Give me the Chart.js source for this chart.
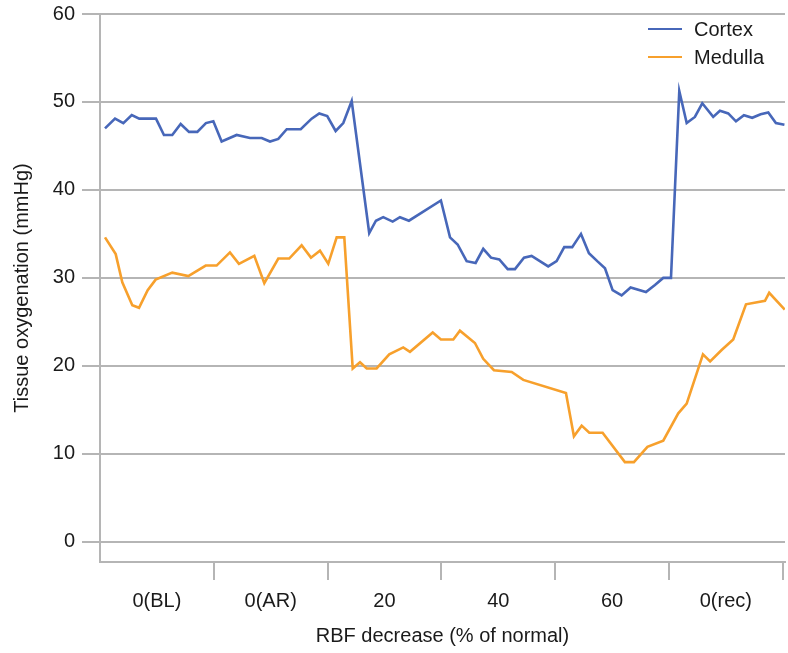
<!DOCTYPE html>
<html>
<head>
<meta charset="utf-8">
<script src="https://cdn.jsdelivr.net/npm/chart.js@4.4.1/dist/chart.umd.min.js"></script>
<style>
  html, body { margin: 0; padding: 0; background: #fff; }
  #wrap { position: relative; width: 788px; height: 653px; }
  #legend { position: absolute; left: 648px; top: 15px; font-family: "Liberation Sans", Arial, sans-serif; font-size: 20px; color: #1a1a1a; }
  #legend .item { display: flex; align-items: center; height: 28px; }
  #legend .swatch { width: 34px; height: 0; border-top: 2.5px solid; margin-right: 12px; }
</style>
</head>
<body>
<div id="wrap">
  <canvas id="c" width="788" height="653"></canvas>
  <div id="legend"></div>
</div>
<script>
// Category labels (one per x-axis group)
const categories = ["0(BL)", "0(AR)", "20", "40", "60", "0(rec)"];
// Y tick values
const yTicks = [0, 10, 20, 30, 40, 50, 60];

// Cortex series: x position (in group units), tissue oxygenation (mmHg)
const cortexX = [0.044,0.132,0.205,0.279,0.345,0.492,0.562,0.635,0.709,0.782,0.855,0.931,0.996,
  1.069,1.201,1.318,1.421,1.494,1.567,1.641,1.764,1.860,1.927,1.997,
  2.071,2.138,2.212,2.366,2.425,2.489,2.572,2.636,2.715,2.996,
  3.076,3.143,3.222,3.301,3.368,3.436,3.509,3.583,3.647,3.726,3.793,3.939,
  4.013,4.080,4.150,4.227,4.297,4.370,4.438,4.505,4.584,4.663,4.798,4.877,4.950,
  5.018,5.091,5.156,5.228,5.293,5.389,5.448,5.521,5.589,5.659,5.732,5.806,5.873,5.940,6.015];
const cortexY = [47.0,48.1,47.6,48.5,48.1,48.1,46.25,46.25,47.5,46.6,46.6,47.6,47.8,
  45.5,46.25,45.9,45.9,45.5,45.8,46.9,46.9,48.1,48.7,48.4,
  46.7,47.6,50.1,35.1,36.5,36.9,36.4,36.9,36.5,38.8,
  34.6,33.8,31.9,31.7,33.3,32.3,32.1,31.0,31.0,32.3,32.5,31.3,
  31.9,33.5,33.5,35.0,32.8,31.9,31.1,28.6,28.0,28.9,28.4,29.2,30.0,
  30.0,51.25,47.6,48.3,49.85,48.3,49.0,48.7,47.8,48.5,48.2,48.6,48.8,47.6,47.4];

// Medulla series
const medullaX = [0.044,0.138,0.196,0.284,0.343,0.419,0.489,0.635,0.776,0.929,
  1.025,1.142,1.221,1.356,1.444,1.567,1.663,1.772,1.854,1.933,
  2.006,2.080,2.147,2.221,2.285,2.344,2.431,2.542,2.665,2.724,2.924,2.996,
  3.105,3.163,3.295,3.368,3.462,3.618,3.720,
  4.095,4.165,4.233,4.300,4.417,4.613,4.692,4.811,4.950,
  5.082,5.156,5.299,5.362,5.463,5.565,5.677,5.844,5.881,6.018];
const medullaY = [34.6,32.7,29.5,26.9,26.6,28.6,29.8,30.6,30.2,31.4,
  31.4,32.9,31.6,32.5,29.4,32.2,32.2,33.7,32.3,33.1,
  31.6,34.6,34.6,19.7,20.4,19.7,19.7,21.3,22.1,21.6,23.8,23.0,
  23.0,24.0,22.6,20.8,19.5,19.3,18.4,
  16.9,12.0,13.2,12.4,12.4,9.06,9.06,10.8,11.5,
  14.6,15.7,21.3,20.5,21.8,23.0,27.0,27.4,28.3,26.4];

const seriesNames = ["Cortex", "Medulla"];
const seriesColors = ["#4767b9", "#f7a02c"];

const toPoints = (xs, ys) => xs.map((x, i) => ({ x: x, y: ys[i] }));

const FONT = "'Liberation Sans', Arial, sans-serif";
const TEXT = "#1a1a1a";
const GRID = "#b5b5b5";

const chart = new Chart(document.getElementById("c"), {
  type: "line",
  data: {
    datasets: [
      { label: seriesNames[0], data: toPoints(cortexX, cortexY), borderColor: seriesColors[0], borderWidth: 2.6, pointRadius: 0, tension: 0, fill: false },
      { label: seriesNames[1], data: toPoints(medullaX, medullaY), borderColor: seriesColors[1], borderWidth: 2.6, pointRadius: 0, tension: 0, fill: false }
    ]
  },
  options: {
    responsive: false,
    animation: false,
    layout: { padding: { top: 14, right: 3, left: 0, bottom: 0 } },
    plugins: { legend: { display: false }, tooltip: { enabled: false } },
    scales: {
      x: {
        type: "linear",
        min: 0,
        max: 6.02,
        afterFit: (s) => { s.height = 91; s.paddingLeft = 0; s.paddingRight = 0; },
        afterBuildTicks: (s) => {
          const t = [];
          for (let i = 0; i <= categories.length * 2; i++) t.push({ value: i / 2 });
          s.ticks = t;
        },
        border: { display: true, color: GRID, width: 2 },
        grid: {
          drawOnChartArea: false,
          drawTicks: true,
          tickLength: 18,
          lineWidth: 2,
          color: (ctx) => (ctx.tick && Number.isInteger(ctx.tick.value) && ctx.tick.value > 0) ? GRID : "rgba(0,0,0,0)"
        },
        ticks: {
          autoSkip: false,
          maxRotation: 0,
          padding: 9,
          color: TEXT,
          font: { family: FONT, size: 20 },
          callback: (v) => (Math.abs(v % 1 - 0.5) < 1e-6) ? categories[Math.floor(v)] : ""
        },
        title: {
          display: true,
          text: "RBF decrease (% of normal)",
          color: TEXT,
          font: { family: FONT, size: 20 },
          padding: { top: 0, bottom: 5 }
        }
      },
      y: {
        type: "linear",
        min: -2.3,
        max: 60,
        afterFit: (s) => { s.width = 100; s.paddingTop = 0; s.paddingBottom = 0; },
        afterBuildTicks: (s) => { s.ticks = yTicks.map(v => ({ value: v })); },
        border: { display: true, color: GRID, width: 2 },
        grid: { color: GRID, lineWidth: 2, drawTicks: true, tickLength: 18 },
        ticks: {
          padding: 7,
          color: TEXT,
          font: { family: FONT, size: 20 }
        },
        title: {
          display: true,
          text: "Tissue oxygenation (mmHg)",
          color: TEXT,
          font: { family: FONT, size: 20 },
          padding: { top: 10, bottom: 0 }
        }
      }
    }
  }
});

// HTML legend built from the chart's datasets
const legendEl = document.getElementById("legend");
chart.data.datasets.forEach((ds) => {
  const item = document.createElement("div");
  item.className = "item";
  const sw = document.createElement("span");
  sw.className = "swatch";
  sw.style.borderTopColor = ds.borderColor;
  const txt = document.createElement("span");
  txt.textContent = ds.label;
  item.appendChild(sw);
  item.appendChild(txt);
  legendEl.appendChild(item);
});
</script>
</body>
</html>
